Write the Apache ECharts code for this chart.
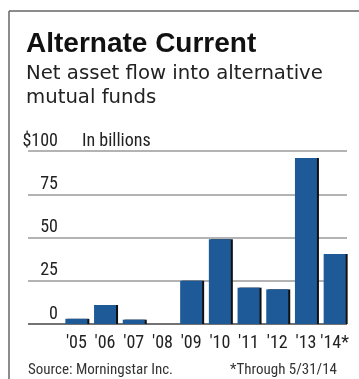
<!DOCTYPE html>
<html>
<head>
<meta charset="utf-8">
<script src="https://cdn.jsdelivr.net/npm/echarts@6/dist/echarts.min.js"></script>
<style>
  html, body { margin: 0; padding: 0; background: #fff; }
  #chart { width: 359px; height: 379px; }
</style>
</head>
<body>
<div id="chart"></div>
<script>
// net asset flow, $ billions
const years = ["'05", "'06", "'07", "'08", "'09", "'10", "'11", "'12", "'13", "'14*"]
const flows = [3, 11, 2.5, 0, 25, 49, 21, 20, 96, 40.5]
const yTicks = [0, 25, 50, 75, 100]

const narrow = '"Roboto Condensed", "Liberation Sans", sans-serif'
const gridTop = 151
const gridBottom = 55

const chart = echarts.init(document.getElementById('chart'))

const option = {
  animation: false,
  grid: [
    // wide grid only for the gridlines that run under the labels
    { left: 28, right: 12, top: gridTop, bottom: gridBottom },
    { left: 62, right: 10, top: gridTop, bottom: gridBottom }
  ],
  xAxis: [
    { gridIndex: 0, type: 'category', data: years, show: false },
    {
      gridIndex: 1,
      type: 'category',
      data: years,
      axisLine: { show: false },
      axisTick: { show: false },
      axisLabel: { interval: 0, fontFamily: narrow, fontSize: 18, color: '#222', margin: 10 }
    }
  ],
  yAxis: [
    {
      gridIndex: 0,
      type: 'value',
      min: yTicks[0],
      max: yTicks[yTicks.length - 1],
      interval: 25,
      axisLine: { show: false },
      axisTick: { show: false },
      splitLine: {
        lineStyle: { color: ['#444', '#9a9a9a', '#9a9a9a', '#9a9a9a', '#9a9a9a'], width: 1.5 }
      },
      axisLabel: {
        inside: true,
        margin: 30,
        align: 'right',
        verticalAlign: 'bottom',
        padding: [0, 0, 1, 0],
        fontFamily: narrow,
        fontSize: 18,
        color: '#222',
        formatter: v => (v === 100 ? '$100' : String(v))
      }
    },
    {
      gridIndex: 1,
      type: 'value',
      min: yTicks[0],
      max: yTicks[yTicks.length - 1],
      interval: 25,
      show: false,
      splitLine: { show: false }
    }
  ],
  series: [
    {
      type: 'bar',
      xAxisIndex: 1,
      yAxisIndex: 1,
      data: flows,
      barWidth: 22,
      itemStyle: {
        color: '#1f5a98',
        shadowColor: '#111',
        shadowOffsetX: 2,
        shadowOffsetY: 0,
        shadowBlur: 0
      }
    }
  ],
  graphic: [
    { type: 'line', shape: { x1: 9, y1: 11, x2: 359, y2: 11 }, style: { stroke: '#666', lineWidth: 1.5 } },
    { type: 'line', shape: { x1: 9, y1: 11, x2: 9, y2: 379 }, style: { stroke: '#666', lineWidth: 1.5 } },
    {
      type: 'text', x: 26, y: 44,
      style: { text: 'Alternate Current', font: 'bold 28px "Liberation Sans", Arial, sans-serif', fill: '#111', verticalAlign: 'middle' }
    },
    {
      type: 'text', x: 26, y: 74,
      style: { text: 'Net asset flow into alternative', font: '19.7px "DejaVu Sans", sans-serif', fill: '#222', verticalAlign: 'middle' }
    },
    {
      type: 'text', x: 26, y: 98,
      style: { text: 'mutual funds', font: '19.7px "DejaVu Sans", sans-serif', fill: '#222', verticalAlign: 'middle' }
    },
    {
      type: 'text', x: 82, y: 150,
      style: { text: 'In billions', font: '18px ' + narrow, fill: '#222', verticalAlign: 'bottom' }
    },
    {
      type: 'text', x: 28, y: 370,
      style: { text: 'Source: Morningstar Inc.', font: '15px ' + narrow, fill: '#333', verticalAlign: 'middle' }
    },
    {
      type: 'text', x: 337, y: 370,
      style: { text: '*Through 5/31/14', font: '15px ' + narrow, fill: '#333', align: 'right', verticalAlign: 'middle' }
    }
  ]
}

chart.setOption(option)
</script>
</body>
</html>
